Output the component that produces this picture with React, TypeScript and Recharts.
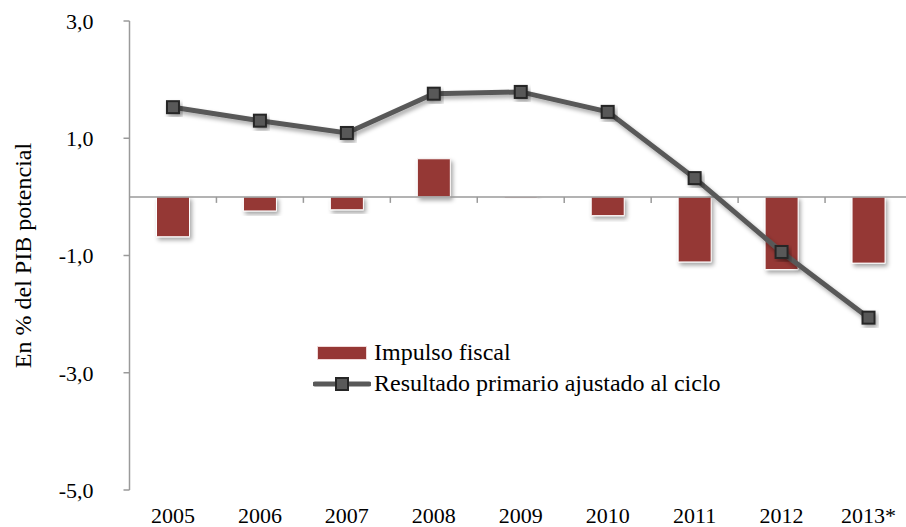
import React from 'react';
import { ComposedChart, Bar, Line, XAxis, YAxis, ReferenceLine } from 'recharts';

const years = ['2005', '2006', '2007', '2008', '2009', '2010', '2011', '2012', '2013*'];
const impulsoFiscal = [-0.68, -0.24, -0.22, 0.65, -0.02, -0.32, -1.11, -1.24, -1.13];
const resultadoPrimario = [1.53, 1.30, 1.09, 1.76, 1.79, 1.45, 0.32, -0.94, -2.06];
const yTicks = [3, 1, -1, -3, -5];
const seriesNames = ['Impulso fiscal', 'Resultado primario ajustado al ciclo'];

const data = years.map((year, i) => ({
  year,
  impulso: impulsoFiscal[i],
  resultado: resultadoPrimario[i],
}));

const FONT = '"Liberation Serif", "Times New Roman", "DejaVu Serif", serif';
const BAR_RED = '#953735';
const LINE_GRAY = '#595959';

const fmt = (v: number) => v.toFixed(1).replace('.', ',');

// zero line with small ticks at the category boundaries
const ZeroAxis = (props: any) => {
  const { x1, x2, y1 } = props;
  const step = (x2 - x1) / years.length;
  return (
    <g>
      <line x1={x1} x2={x2} y1={y1} y2={y1} stroke="#9a9a9a" strokeWidth={1.5} />
      {years.map((_, i) => (
        <line key={i} x1={x1 + (i + 1) * step} x2={x1 + (i + 1) * step} y1={y1} y2={y1 + 6} stroke="#9a9a9a" strokeWidth={1.5} />
      ))}
    </g>
  );
};

const SquareDot = (props: any) => {
  const { cx, cy, index } = props;
  if (cx == null || cy == null) return null;
  return (
    <rect key={index} x={cx - 6} y={cy - 6} width={12} height={12} fill={LINE_GRAY} stroke="#262626" strokeWidth={2} filter="url(#shadow)" />
  );
};

const LegendBox = () => (
  <div style={{ position: 'absolute', left: 313, top: 337, fontFamily: FONT, fontSize: 24, color: '#000', lineHeight: '31px' }}>
    <div style={{ display: 'flex', alignItems: 'center' }}>
      <div style={{ width: 48, height: 12, background: BAR_RED, margin: '0 8px 0 5px', boxShadow: '0 0 0 1px #f0d8d8' }} />
      <span>{seriesNames[0]}</span>
    </div>
    <div style={{ display: 'flex', alignItems: 'center' }}>
      <svg width={58} height={16} style={{ marginRight: 3 }}>
        <line x1={2} x2={56} y1={8} y2={8} stroke={LINE_GRAY} strokeWidth={5} strokeLinecap="round" />
        <rect x={23} y={2} width={12} height={12} fill={LINE_GRAY} stroke="#262626" strokeWidth={2} />
      </svg>
      <span>{seriesNames[1]}</span>
    </div>
  </div>
);

export default function App() {
  return (
    <div style={{ position: 'absolute', left: 0, top: 0, width: 906, height: 527, overflow: 'hidden', background: '#fff' }}>
      <svg width={0} height={0} style={{ position: 'absolute' }}>
        <defs>
          <filter id="shadow" x="-30%" y="-30%" width="160%" height="160%">
            <feDropShadow dx={2} dy={3} stdDeviation={2} floodColor="#000" floodOpacity={0.35} />
          </filter>
        </defs>
      </svg>
      <ComposedChart width={912} height={527} data={data} margin={{ top: 21, right: 0, left: 0, bottom: 0 }} barSize={33}>
        <XAxis
          dataKey="year"
          axisLine={false}
          tickLine={false}
          height={37}
          tickMargin={11}
          interval={0}
          tick={{ fontFamily: FONT, fontSize: 22, fill: '#000' }}
        />
        <YAxis
          domain={[-5, 3]}
          ticks={yTicks}
          tickFormatter={fmt}
          width={129.5}
          axisLine={{ stroke: '#9a9a9a', strokeWidth: 1.5 }}
          tickLine={{ stroke: '#9a9a9a', strokeWidth: 1.5 }}
          tickSize={6}
          tickMargin={30}
          tick={{ fontFamily: FONT, fontSize: 22, fill: '#000' }}
          label={{
            value: 'En % del PIB potencial',
            angle: -90,
            position: 'insideLeft',
            offset: 22,
            style: { fontFamily: FONT, fontSize: 24, fill: '#000', textAnchor: 'middle' },
          }}
        />
        <ReferenceLine y={0} shape={ZeroAxis} />
        <Bar dataKey="impulso" name={seriesNames[0]} fill={BAR_RED} stroke="#fff" strokeWidth={1} filter="url(#shadow)" isAnimationActive={false} />
        <Line
          dataKey="resultado"
          name={seriesNames[1]}
          stroke={LINE_GRAY}
          strokeWidth={5}
          dot={SquareDot}
          activeDot={false}
          filter="url(#shadow)"
          isAnimationActive={false}
        />
      </ComposedChart>
      <LegendBox />
    </div>
  );
}
